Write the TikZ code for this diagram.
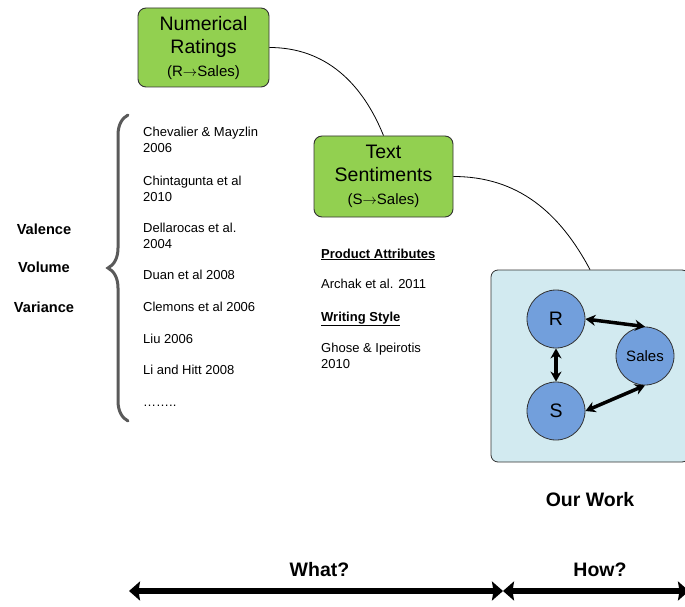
\documentclass[tikz,border=0pt]{standalone}
\usepackage{fontspec}
\setmainfont{Liberation Sans}
\usetikzlibrary{arrows.meta,decorations.pathreplacing}
\definecolor{boxgreen}{RGB}{146,208,80}
\definecolor{panelblue}{RGB}{210,234,240}
\definecolor{nodeblue}{RGB}{114,159,220}
\definecolor{bracegray}{RGB}{90,90,90}
\definecolor{edgegray}{RGB}{50,50,50}
\newcommand{\relarrow}{$\rightarrow$}
\begin{document}
\begin{tikzpicture}[x=1pt,y=-1pt,
  greenbox/.style={draw=edgegray, line width=0.9pt, fill=boxgreen, rounded corners=8pt,
    align=center, inner sep=0pt, font=\fontsize{19.5}{23}\selectfont},
  panel/.style={draw=edgegray, line width=0.8pt, fill=panelblue, rounded corners=7pt, inner sep=0pt},
  circ/.style={circle, draw=edgegray, line width=0.8pt, fill=nodeblue, minimum size=58pt, inner sep=0pt},
  circarrow/.style={line width=3.5pt, {Stealth[length=10pt,width=11pt]}-{Stealth[length=10pt,width=11pt]}},
  bigarrow/.style={line width=6.5pt, {Stealth[length=11pt,width=19pt,inset=1.5pt]}-{Stealth[length=11pt,width=19pt,inset=1.5pt]}},
  connector/.style={line width=0.8pt, draw=black},
  ref/.style={anchor=base west, inner sep=0pt, font=\fontsize{13}{16}\selectfont},
  heading/.style={anchor=base west, inner sep=0pt, font=\fontsize{13}{16}\selectfont\bfseries},
  dim/.style={anchor=base, inner sep=0pt, font=\fontsize{14.6}{16}\selectfont\bfseries},
  big/.style={anchor=base, inner sep=0pt, font=\fontsize{19.5}{22}\selectfont\bfseries}
]
\useasboundingbox (0,0) rectangle (685,607);

% green boxes
\node[greenbox, minimum width=131pt, minimum height=79pt] (num) at (203.5,47.5)
  {Numerical\\Ratings\\{\fontsize{15}{23}\selectfont (R\relarrow Sales)}};
\node[greenbox, minimum width=139pt, minimum height=81pt] (ts) at (383.5,176.5)
  {Text\\Sentiments\\{\fontsize{15}{23}\selectfont (S\relarrow Sales)}};

% panel with the model
\node[panel, minimum width=198pt, minimum height=192pt] (ow) at (590,366) {};
\node[circ, font=\fontsize{19.5}{20}\selectfont] (R) at (556,319) {R};
\node[circ, font=\fontsize{15}{16}\selectfont] (Sales) at (645,356) {Sales};
\node[circ, font=\fontsize{19.5}{20}\selectfont] (S) at (556,411) {S};
\draw[circarrow] (R.east) -- (Sales.north);
\draw[circarrow] (S.east) -- (Sales.south);
\draw[circarrow] (R.south) -- (S.north);

% connectors
\draw[connector] (num.east) to[out=0,in=112] (ts.north);
\draw[connector] (ts.east) to[out=0,in=118] (ow.north);

% brace
\coordinate (bb) at (128,421);
\coordinate (bt) at (128,115);
\draw[bracegray, line width=3pt, line cap=round, decorate, decoration={brace, amplitude=20pt}] (bb) -- (bt);

% left labels
\node[dim] (val) at (44,234) {Valence};
\node[dim] (vol) at (44,272) {Volume};
\node[dim] (var) at (44,312) {Variance};

% references
\node[ref] (r1) at (143,137) {Chevalier \& Mayzlin};
\node[ref] (r1b) at (143,153) {2006};
\node[ref] (r2) at (143,185) {Chintagunta et al};
\node[ref] (r2b) at (143,201) {2010};
\node[ref] (r3) at (143,232) {Dellarocas et al.};
\node[ref] (r3b) at (143,248) {2004};
\node[ref] (r4) at (143,279) {Duan et al 2008};
\node[ref] (r5) at (143,311) {Clemons et al 2006};
\node[ref] (r6) at (143,343) {Liu 2006};
\node[ref] (r7) at (143,374) {Li and Hitt 2008};
\node[ref] (r8) at (143,406) {……..};

% text sentiment refs
\node[heading] (pa) at (321,258) {\underline{Product Attributes}};
\node[ref] (ar) at (321,288) {Archak et al. 2011};
\node[heading] (ws) at (321,321) {\underline{Writing Style}};
\node[ref] (gh) at (321,352) {Ghose \& Ipeirotis};
\node[ref] (ghb) at (321,368) {2010};

% our work
\node[big] (our) at (590,506) {Our Work};

% bottom arrows
\coordinate (wl) at (129,591);
\coordinate (mid) at (503,591);
\coordinate (wr) at (689,591);
\draw[bigarrow] (wl) -- (mid);
\draw[bigarrow] (mid) -- (wr);
\node[big] (what) at (319.5,576) {What?};
\node[big] (how) at (600,576) {How?};
\end{tikzpicture}
\end{document}
